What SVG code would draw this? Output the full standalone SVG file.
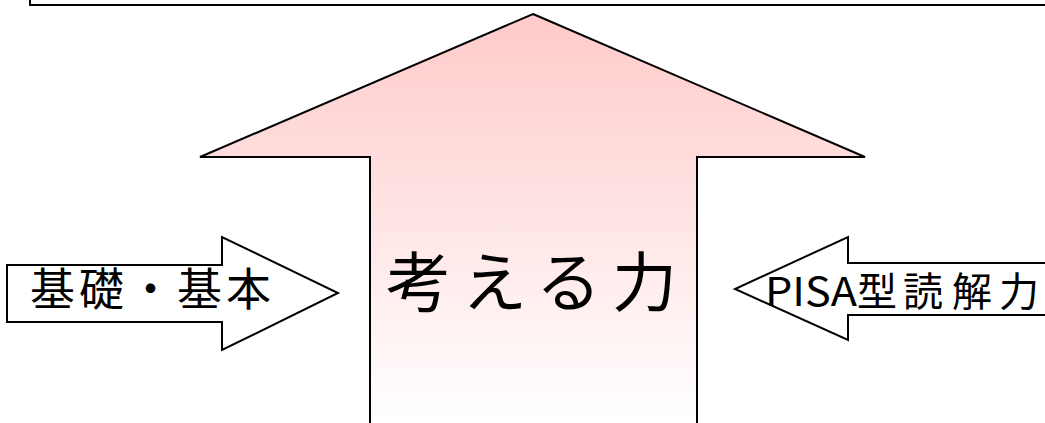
<svg xmlns="http://www.w3.org/2000/svg" width="1045" height="423" viewBox="0 0 1045 423">
<defs>
<linearGradient id="pink" x1="0" y1="14" x2="0" y2="423" gradientUnits="userSpaceOnUse">
<stop offset="0" stop-color="#FFCACA"/>
<stop offset="1" stop-color="#FFFFFF"/>
</linearGradient>
<style>
.shape{stroke:#000;stroke-width:2;stroke-linejoin:miter}
.t{font-family:"Noto Sans CJK JP","Noto Sans CJK SC",sans-serif;font-weight:400;fill:#000}
</style>
</defs>
<rect width="1045" height="423" fill="#fff"/>
<g id="top-box">
<rect class="shape" x="30" y="-20" width="1040" height="25" fill="#fff" stroke-width="2.5"/>
</g>
<g id="main-arrow">
<polygon class="shape" fill="url(#pink)" points="533,14 865,157 697,157 697,430 370,430 370,157 200,157"/>
<text class="t" x="386" y="306" font-size="65" letter-spacing="11">考える力</text>
</g>
<g id="left-arrow">
<polygon class="shape" fill="#fff" points="7,265 222,265 222,237 338,293 222,350 222,322 7,322"/>
<text class="t" x="30" y="306" font-size="45" letter-spacing="4">基礎・基本</text>
</g>
<g id="right-arrow">
<polygon class="shape" fill="#fff" points="1060,263 848,263 848,237 735,289 848,340 848,315 1060,315"/>
<text class="t" y="306" font-size="40"><tspan x="765" textLength="92" lengthAdjust="spacingAndGlyphs">PISA</tspan><tspan x="857">型</tspan><tspan x="903">読</tspan><tspan x="952">解</tspan><tspan x="999">力</tspan></text>
</g>
<g id="connectors"></g>
</svg>
